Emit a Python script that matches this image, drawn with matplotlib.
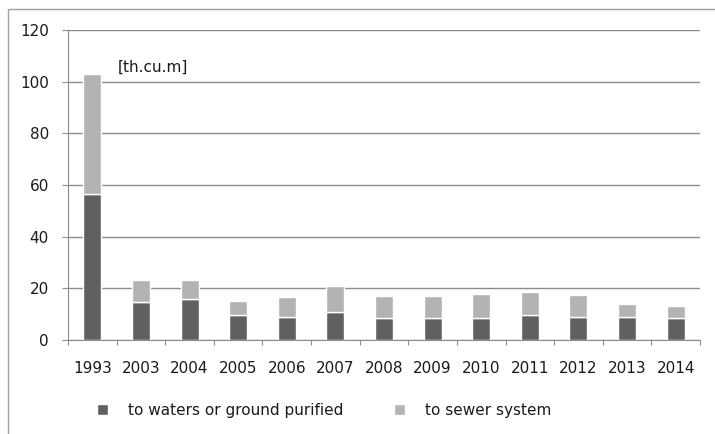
import matplotlib.pyplot as plt
import matplotlib.patches as mpatches
import numpy as np

# -------------------------
# Dados
# -------------------------
anos = ["1993", "2003", "2004", "2005", "2006", "2007", "2008",
        "2009", "2010", "2011", "2012", "2013", "2014"]
purificada = [56.5, 14.8, 16.0, 9.8, 9.0, 10.7, 8.4, 8.4, 8.4, 9.5, 9.0, 9.0, 8.4]
esgoto = [46.5, 8.5, 7.3, 5.4, 7.5, 10.3, 8.5, 8.5, 9.3, 9.2, 8.4, 5.1, 4.9]

rotulos = ["to waters or ground purified", "to sewer system"]
cor_escura = "#606060"
cor_clara = "#b3b3b3"
cor_grade = "#8c8c8c"

plt.rcParams["font.family"] = "DejaVu Sans"

fig = plt.figure(figsize=(7.15, 4.34), dpi=100)
ax = fig.add_axes([68 / 715, 1 - 340 / 434, 632 / 715, 310 / 434])

x = np.arange(len(anos))
ax.bar(x, purificada, width=0.37, color=cor_escura, edgecolor="white",
       linewidth=1, zorder=3)
ax.bar(x, esgoto, bottom=purificada, width=0.37, color=cor_clara,
       edgecolor="white", linewidth=1, zorder=3)

ax.set_xlim(-0.5, len(anos) - 0.5)
ax.set_ylim(0, 120)
ax.set_yticks(range(0, 121, 20))
ax.yaxis.grid(True, color=cor_grade, linewidth=1)
ax.set_axisbelow(True)

# ticks do eixo x entre as categorias
ax.set_xticks(np.arange(-0.5, len(anos), 1))
ax.set_xticklabels([])
ax.set_xticks(x, minor=True)
ax.set_xticklabels(anos, minor=True, fontsize=11, color="#1a1a1a")
ax.tick_params(axis="x", which="minor", length=0, pad=15)
ax.tick_params(axis="x", which="major", length=3.6, color=cor_grade, direction="out")
ax.tick_params(axis="y", length=4.3, color=cor_grade, labelsize=11,
               labelcolor="#1a1a1a", pad=9.4)

for lado in ["top", "right"]:
    ax.spines[lado].set_visible(False)
for lado in ["left", "bottom"]:
    ax.spines[lado].set_color(cor_grade)

ax.text(0.53, 105.7, "[th.cu.m]", fontsize=11, color="#1a1a1a", va="center")

# -------------------------
# Legenda
# -------------------------
handles = [mpatches.Patch(facecolor=cor_escura, edgecolor="white"),
           mpatches.Patch(facecolor=cor_clara, edgecolor="white")]
fig.legend(handles, rotulos, loc="center", bbox_to_anchor=(324 / 715, 1 - 410 / 434),
           ncol=2, frameon=False, fontsize=11, handlelength=0.75, handleheight=0.75,
           handletextpad=1.3, columnspacing=3.3, labelcolor="#1a1a1a")

# moldura externa
fig.patches.append(mpatches.Rectangle((8 / 715, -0.1), 1.1, 1 - 9 / 434 + 0.1,
                                      transform=fig.transFigure, fill=False,
                                      edgecolor="#a0a0a0", linewidth=1))

fig.savefig("out.png", dpi=100)
